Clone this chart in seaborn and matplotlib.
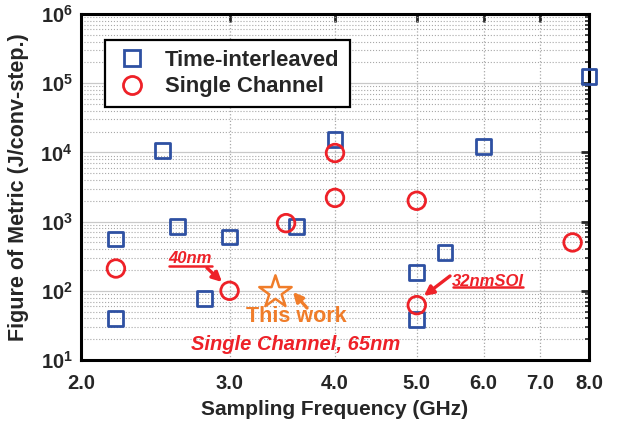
import numpy as np
import pandas as pd
import matplotlib
matplotlib.use('Agg')
import matplotlib.pyplot as plt
import seaborn as sns
from matplotlib.lines import Line2D
from matplotlib.ticker import FixedLocator, FixedFormatter, NullFormatter, LogLocator, NullLocator

# ---- data ----
ti_freq = [2.2, 2.2, 2.5, 2.6, 2.8, 3.0, 3.6, 4.0, 5.0, 5.0, 5.4, 6.0, 8.0]
ti_fom = [560, 40, 10500, 860, 78, 600, 850, 15500, 185, 39, 360, 12000, 125000]
sc_freq = [2.2, 3.0, 3.5, 4.0, 4.0, 5.0, 5.0, 7.65]
sc_fom = [210, 100, 950, 9800, 2200, 2000, 62, 500]
this_freq = [3.4]
this_fom = [95]

x_ticks = [2.0, 3.0, 4.0, 5.0, 6.0, 7.0, 8.0]
x_labels = ['2.0', '3.0', '4.0', '5.0', '6.0', '7.0', '8.0']
y_ticks = [1e1, 1e2, 1e3, 1e4, 1e5, 1e6]
y_labels = [r'$\mathbf{10^{1}}$', r'$\mathbf{10^{2}}$', r'$\mathbf{10^{3}}$',
            r'$\mathbf{10^{4}}$', r'$\mathbf{10^{5}}$', r'$\mathbf{10^{6}}$']

BLUE = '#2E50A2'
RED = '#EE2128'
ORANGE = '#F07D2A'

sns.set_style('white')
plt.rcParams['font.family'] = ['Liberation Sans', 'DejaVu Sans']
plt.rcParams['font.weight'] = 'bold'
plt.rcParams['mathtext.fontset'] = 'custom'
plt.rcParams['mathtext.rm'] = 'Liberation Sans:bold'
plt.rcParams['mathtext.bf'] = 'Liberation Sans:bold'
plt.rcParams['mathtext.it'] = 'Liberation Sans:bold:italic'

fig = plt.figure(figsize=(6.21, 4.23), dpi=100)
ax = fig.add_axes([81/621, 1-360/423, 508/621, 346/423])

ti = pd.DataFrame({'f': ti_freq, 'fom': ti_fom})
sc = pd.DataFrame({'f': sc_freq, 'fom': sc_fom})
tw = pd.DataFrame({'f': this_freq, 'fom': this_fom})

ax.set_xscale('log')
ax.set_yscale('log')
ax.set_xlim(2.0, 8.0)
ax.set_ylim(1e1, 1e6)

sns.scatterplot(data=ti, x='f', y='fom', marker='s', s=115, facecolors='none',
                edgecolor=BLUE, linewidth=2.0, ax=ax, clip_on=False, zorder=5)
sns.scatterplot(data=sc, x='f', y='fom', marker='o', s=160, facecolors='none',
                edgecolor=RED, linewidth=2.0, ax=ax, clip_on=False, zorder=6)
sns.scatterplot(data=tw, x='f', y='fom', marker='*', s=600, facecolors='none',
                edgecolor=ORANGE, linewidth=1.8, ax=ax, clip_on=False, zorder=6)

# ticks
ax.xaxis.set_major_locator(FixedLocator(x_ticks))
ax.xaxis.set_major_formatter(FixedFormatter(x_labels))
ax.xaxis.set_minor_locator(NullLocator())
ax.yaxis.set_major_locator(FixedLocator(y_ticks))
ax.yaxis.set_major_formatter(FixedFormatter(y_labels))
ax.yaxis.set_minor_locator(LogLocator(base=10, subs=np.arange(2, 10)))
ax.yaxis.set_minor_formatter(NullFormatter())
ax.tick_params(axis='both', which='major', direction='in', length=6, width=2,
               top=True, right=True, labelsize=14.5)
ax.tick_params(axis='both', which='minor', direction='in', length=3, width=1.2,
               top=True, right=True)
ax.tick_params(axis='x', which='major', pad=10)
ax.tick_params(axis='y', which='major', pad=6)

# grid
ax.grid(True, which='major', axis='y', color='#c9c9c9', linestyle='-', linewidth=0.9)
ax.grid(True, which='minor', axis='y', color='#a8a8a8', linestyle=':', linewidth=0.8)
ax.grid(True, which='major', axis='x', color='#a8a8a8', linestyle=':', linewidth=0.9)
ax.set_axisbelow(True)

for sp in ax.spines.values():
    sp.set_linewidth(2.2)
    sp.set_color('black')

ax.set_xlabel('Sampling Frequency (GHz)', fontsize=15, fontweight='bold', labelpad=5)
ax.set_ylabel('Figure of Metric (J/conv-step.)', fontsize=15.5, fontweight='bold', labelpad=8)

# legend
handles = [
    Line2D([], [], marker='s', ls='none', mfc='none', mec=BLUE, ms=11, mew=2),
    Line2D([], [], marker='o', ls='none', mfc='none', mec=RED, ms=13, mew=2),
]
leg = ax.legend(handles, ['Time-interleaved', 'Single Channel'], loc='upper left',
                bbox_to_anchor=(0.047, 0.925), fontsize=15.8, frameon=True, fancybox=False,
                edgecolor='black', framealpha=1, borderpad=0.45, labelspacing=0.25,
                handletextpad=0.7, handlelength=1.6, borderaxespad=0)
leg.get_frame().set_linewidth(1.6)
for t in leg.get_texts():
    t.set_fontweight('bold')

# annotations
tr = ax.transAxes
ax.text(0.2146, 0.292, '40nm', transform=tr, color=RED, fontsize=12, fontweight='bold',
        fontstyle='italic', ha='center', va='center')
ax.plot([0.1732, 0.2579], [0.2717, 0.2717], transform=tr, color=RED, lw=1.8, clip_on=False)
ax.annotate('', xy=(0.2776, 0.2254), xycoords=tr, xytext=(0.248, 0.266), textcoords=tr,
            arrowprops=dict(arrowstyle='-|>', color=RED, lw=2.4, mutation_scale=14,
                            shrinkA=0, shrinkB=0))

ax.text(0.801, 0.2283, '32nmSOI', transform=tr, color=RED, fontsize=12, fontweight='bold',
        fontstyle='italic', ha='center', va='center')
ax.plot([0.732, 0.870], [0.211, 0.211], transform=tr, color=RED, lw=1.8, clip_on=False)
ax.annotate('', xy=(0.675, 0.185), xycoords=tr, xytext=(0.7264, 0.2428), textcoords=tr,
            arrowprops=dict(arrowstyle='-|>', color=RED, lw=2.4, mutation_scale=14,
                            shrinkA=0, shrinkB=0))

ax.text(0.4232, 0.1243, 'This work', transform=tr, color=ORANGE, fontsize=15.5,
        fontweight='bold', ha='center', va='center')
ax.annotate('', xy=(0.4173, 0.1965), xycoords=tr, xytext=(0.4449, 0.1503), textcoords=tr,
            arrowprops=dict(arrowstyle='-|>', color=ORANGE, lw=2.4, mutation_scale=14,
                            shrinkA=0, shrinkB=0))

ax.text(0.4232, 0.0434, 'Single Channel, 65nm', transform=tr, color=RED, fontsize=14.5,
        fontweight='bold', fontstyle='italic', ha='center', va='center')

fig.savefig('out.png', dpi=100)
